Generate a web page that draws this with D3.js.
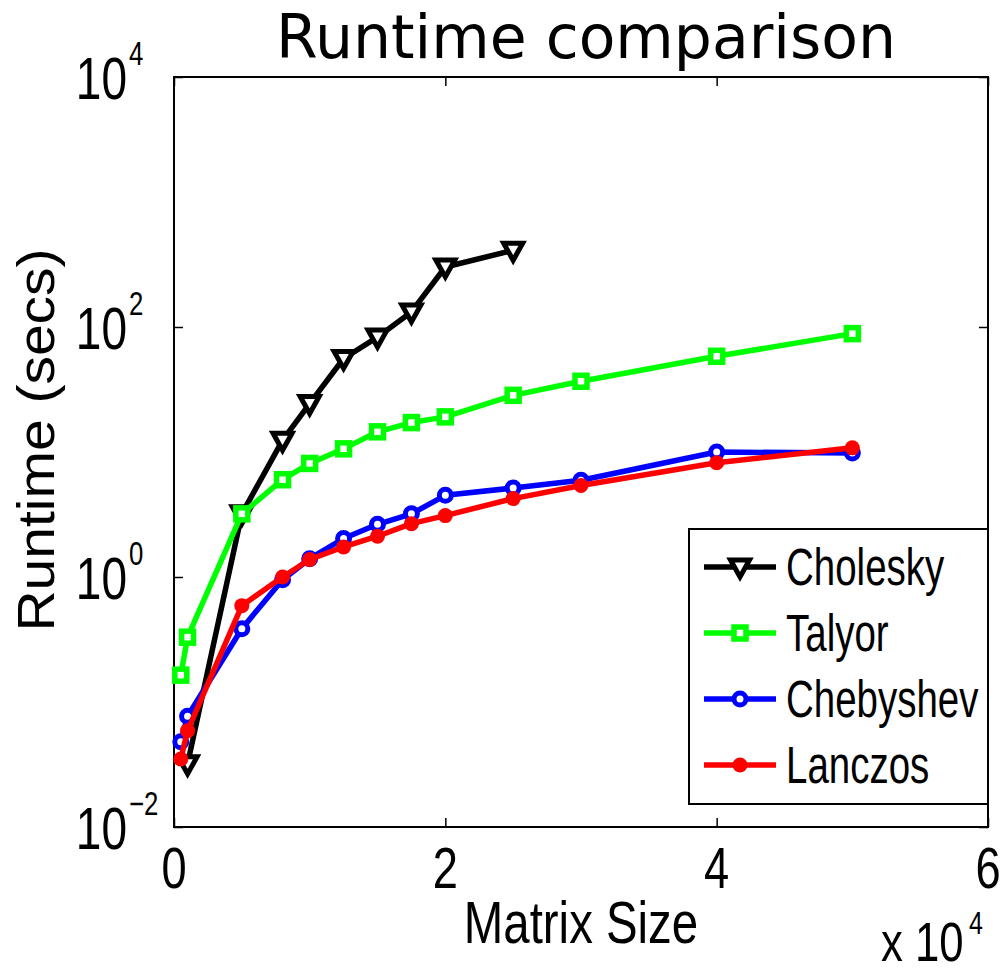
<!DOCTYPE html>
<html>
<head>
<meta charset="utf-8">
<script src="https://cdn.jsdelivr.net/npm/d3@7"></script>
<style>
  body { margin: 0; background: #fff; }
  svg { display: block; }
</style>
</head>
<body>
<div id="chart"></div>
<script>
// Data
const matrixSizes = [500, 1000, 5000, 8000, 10000, 12500, 15000, 17500, 20000, 25000, 30000, 40000, 50000];
const choleskySizes = [1000, 5000, 8000, 10000, 12500, 15000, 17500, 20000, 25000];
const cholesky = [0.032, 3.2, 12.4, 24.4, 56, 83, 132, 302, 411];
const talyor = [0.164, 0.33, 3.2, 6.0, 8.1, 10.6, 14.5, 17.2, 19.1, 28.4, 36.8, 58.3, 88.5];
const chebyshev = [0.048, 0.077, 0.386, 0.95, 1.40, 2.03, 2.64, 3.2, 4.5, 5.15, 5.94, 10.0, 9.8];
const lanczos = [0.035, 0.059, 0.59, 1.0, 1.38, 1.74, 2.12, 2.67, 3.1, 4.24, 5.4, 8.2, 10.8];

const seriesNames = ["Cholesky", "Talyor", "Chebyshev", "Lanczos"];
const xTicks = [0, 20000, 40000, 60000];
const xTickLabels = ["0", "2", "4", "6"];
const yTicks = [1e-2, 1e0, 1e2, 1e4];
const yTickExponents = ["\u22122", "0", "2", "4"];

const series = [
  {name: seriesNames[0], x: choleskySizes, y: cholesky, color: "#000000", marker: "triangle"},
  {name: seriesNames[1], x: matrixSizes, y: talyor, color: "#00ff00", marker: "square"},
  {name: seriesNames[2], x: matrixSizes, y: chebyshev, color: "#0000ff", marker: "circle"},
  {name: seriesNames[3], x: matrixSizes, y: lanczos, color: "#ff0000", marker: "dot"}
];

const W = 1006, H = 974;
const plot = {left: 174, right: 988, top: 77, bottom: 827};

const svg = d3.select("#chart")
  .append("svg")
    .attr("width", W)
    .attr("height", H);

const x = d3.scaleLinear().domain([0, 60000]).range([plot.left, plot.right]);
const y = d3.scaleLog().domain([1e-2, 1e4]).range([plot.bottom, plot.top]);

const tickFont = "'Liberation Sans', Arial, sans-serif";

// narrow text: glyphs squeezed horizontally like the original export
function narrowText(parent, px, py, str, size, sx, anchor) {
  const g = parent.append("g").attr("transform", `translate(${px},${py}) scale(${sx},1)`);
  return g.append("text")
    .attr("x", 0).attr("y", 0)
    .attr("font-family", tickFont)
    .attr("font-size", size)
    .attr("text-anchor", anchor || "start")
    .attr("fill", "#000")
    .text(str);
}

// Plot box
svg.append("rect")
  .attr("x", plot.left).attr("y", plot.top)
  .attr("width", plot.right - plot.left).attr("height", plot.bottom - plot.top)
  .attr("fill", "none").attr("stroke", "#000").attr("stroke-width", 2);

// Axes (ticks only, inward)
const tickLen = 9;
svg.append("g").attr("transform", `translate(0,${plot.bottom})`)
  .call(d3.axisTop(x).tickValues(xTicks).tickSize(tickLen).tickFormat(""));
svg.append("g").attr("transform", `translate(0,${plot.top})`)
  .call(d3.axisBottom(x).tickValues(xTicks).tickSize(tickLen).tickFormat(""));
svg.append("g").attr("transform", `translate(${plot.left},0)`)
  .call(d3.axisRight(y).tickValues(yTicks).tickSize(tickLen).tickFormat(""));
svg.append("g").attr("transform", `translate(${plot.right},0)`)
  .call(d3.axisLeft(y).tickValues(yTicks).tickSize(tickLen).tickFormat(""));
svg.selectAll(".domain").remove();
svg.selectAll(".tick line").attr("stroke", "#000").attr("stroke-width", 1.5);

// X tick labels
xTicks.forEach((t, i) => {
  narrowText(svg, x(t), 888, xTickLabels[i], 58, 0.78, "middle");
});

// Y tick labels: 10 with exponent
yTicks.forEach((t, i) => {
  narrowText(svg, 127, y(t) + 22, "10", 59, 0.78, "end");
  narrowText(svg, 129, y(t) - 12, yTickExponents[i], 33, 0.78, "start");
});

// x 10^4 multiplier, kept just inside the bottom edge
narrowText(svg, 881, 961, "x 10", 56, 0.78, "start");
narrowText(svg, 969, 934, "4", 32, 0.78, "start");

// Axis titles
narrowText(svg, 581, 943, "Matrix Size", 60, 0.79, "middle");

svg.append("g")
  .attr("transform", "translate(54,440) rotate(-90) scale(1,0.9)")
  .append("text")
    .attr("text-anchor", "middle")
    .attr("font-family", tickFont)
    .attr("font-size", 57)
    .text("Runtime (secs)");

// Title
svg.append("text")
  .attr("x", 586).attr("y", 58)
  .attr("text-anchor", "middle")
  .attr("font-family", "'DejaVu Sans', sans-serif")
  .attr("font-size", 60)
  .text("Runtime comparison");

// Marker drawing
function drawMarker(g, kind, color) {
  if (kind === "triangle") {
    g.append("path").attr("d", "M-9.5,-7L9.5,-7L0,10Z")
      .attr("fill", "#fff").attr("stroke", color).attr("stroke-width", 5)
      .attr("stroke-linejoin", "miter");
  } else if (kind === "square") {
    g.append("rect").attr("x", -6).attr("y", -6).attr("width", 12).attr("height", 12)
      .attr("fill", "#fff").attr("stroke", color).attr("stroke-width", 5.5);
  } else if (kind === "circle") {
    g.append("circle").attr("r", 6)
      .attr("fill", "#fff").attr("stroke", color).attr("stroke-width", 5);
  } else {
    g.append("circle").attr("r", 7.5).attr("fill", color);
  }
}

const line = d3.line().x(d => x(d[0])).y(d => y(d[1]));

// Series: line then markers, in plotting order
series.forEach(s => {
  const pts = s.x.map((v, i) => [v, s.y[i]]);
  const g = svg.append("g");
  g.append("path")
    .datum(pts)
    .attr("d", line)
    .attr("fill", "none")
    .attr("stroke", s.color)
    .attr("stroke-width", 5.5)
    .attr("stroke-linejoin", "round");
  g.selectAll(".pt")
    .data(pts)
    .join("g")
    .attr("class", "pt")
    .attr("transform", d => `translate(${x(d[0])},${y(d[1])})`)
    .each(function() { drawMarker(d3.select(this), s.marker, s.color); });
});

// Legend
const legend = svg.append("g");
legend.append("rect")
  .attr("x", 689).attr("y", 529).attr("width", 988 - 689).attr("height", 804 - 529)
  .attr("fill", "#fff").attr("stroke", "#000").attr("stroke-width", 2);

series.forEach((s, i) => {
  const ry = 567 + i * 66;
  legend.append("line")
    .attr("x1", 704).attr("x2", 776).attr("y1", ry).attr("y2", ry)
    .attr("stroke", s.color).attr("stroke-width", 5.5);
  drawMarker(legend.append("g").attr("transform", `translate(740,${ry})`), s.marker, s.color);
  narrowText(legend, 786, ry + 18, s.name, 52, 0.74, "start");
});
</script>
</body>
</html>
